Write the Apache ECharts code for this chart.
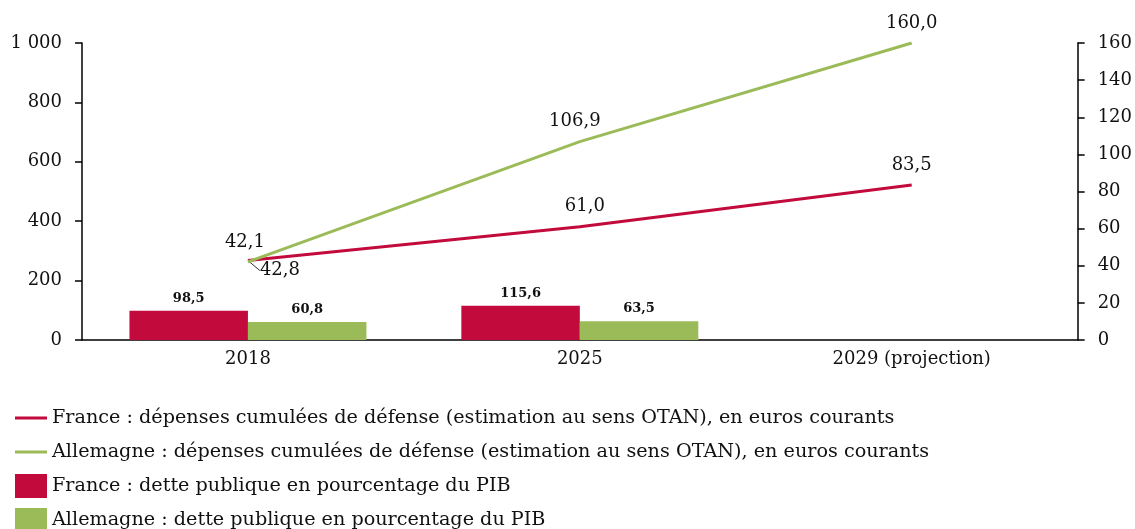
<!DOCTYPE html>
<html>
<head>
<meta charset="utf-8">
<script src="https://cdn.jsdelivr.net/npm/echarts@6/dist/echarts.min.js"></script>
<style>
  html, body { margin: 0; padding: 0; background: #fff; }
  #chart { width: 1135px; height: 529px; }
</style>
</head>
<body>
<div id="chart"></div>
<script>
// Years shown on the category axis
const categories = ['2018', '2025', '2029 (projection)'];

// Public debt, % of GDP (left axis)
const debtFrance = [98.5, 115.6, null];
const debtGermany = [60.8, 63.5, null];

// Cumulative defence spending, NATO basis (right axis)
const defenceFrance = [42.8, 61.0, 83.5];
const defenceGermany = [42.1, 106.9, 160.0];

// Tick settings
const leftTicks = { min: 0, max: 1000, interval: 200 };
const rightTicks = { min: 0, max: 160, interval: 20 };

const names = {
  defFr: 'France : dépenses cumulées de défense (estimation au sens OTAN), en euros courants',
  defDe: 'Allemagne : dépenses cumulées de défense (estimation au sens OTAN), en euros courants',
  debtFr: 'France : dette publique en pourcentage du PIB',
  debtDe: 'Allemagne : dette publique en pourcentage du PIB'
};

const RED = '#C20B3C';
const GREEN = '#9BBB59';
const FONT = 'DejaVu Serif';

const fmt = v => v.toFixed(1).replace('.', ',');
const thousands = v => String(v).replace(/\B(?=(\d{3})+(?!\d))/g, ' ');

// thin horizontal stroke used as the legend mark of the line series
const LINE_ICON = 'path://M0,0H32V3H0Z';

const chart = echarts.init(document.getElementById('chart'));

const barLabel = {
  show: true, position: 'top', distance: 6,
  fontFamily: FONT, fontSize: 13, fontWeight: 'bold', color: '#111',
  formatter: p => fmt(p.value)
};

const lineLabel = {
  show: true, position: 'top', distance: 11,
  fontFamily: FONT, fontSize: 18, color: '#111',
  formatter: p => fmt(p.value)
};

// the first French point has its label pushed below, with a leader line
const franceLineData = defenceFrance.map((v, i) =>
  i === 0 ? { value: v, labelLine: { show: true, lineStyle: { color: '#333', width: 1 } } } : v
);

chart.setOption({
  animation: false,
  textStyle: { fontFamily: FONT },
  grid: { left: 82, right: 57, top: 43, bottom: 189, containLabel: false },
  legend: {
    orient: 'vertical', left: 15, top: 406, height: 200, padding: 0,
    itemWidth: 32, itemHeight: 24, itemGap: 10,
    symbolKeepAspect: true,
    textStyle: { fontFamily: FONT, fontSize: 19.2, lineHeight: 24, color: '#111' },
    data: [
      { name: names.defFr, icon: LINE_ICON },
      { name: names.defDe, icon: LINE_ICON },
      { name: names.debtFr, icon: 'rect' },
      { name: names.debtDe, icon: 'rect' }
    ]
  },
  xAxis: {
    type: 'category', data: categories,
    axisLine: { lineStyle: { color: '#000', width: 1.5 } },
    axisTick: { show: false },
    axisLabel: { color: '#111', fontSize: 18, fontFamily: FONT, margin: 10 }
  },
  yAxis: [
    {
      type: 'value', ...leftTicks,
      splitLine: { show: false },
      axisLine: { show: true, lineStyle: { color: '#000', width: 1.5 } },
      axisTick: { show: true, length: 7, lineStyle: { color: '#000', width: 1.5 } },
      axisLabel: { color: '#111', fontSize: 18, fontFamily: FONT, margin: 20, formatter: thousands }
    },
    {
      type: 'value', position: 'right', ...rightTicks,
      splitLine: { show: false },
      axisLine: { show: true, lineStyle: { color: '#000', width: 1.5 } },
      axisTick: { show: true, length: 7, lineStyle: { color: '#000', width: 1.5 } },
      axisLabel: { color: '#111', fontSize: 18, fontFamily: FONT, margin: 20 }
    }
  ],
  series: [
    {
      name: names.debtFr, type: 'bar', yAxisIndex: 0,
      data: debtFrance, barGap: '0%', barCategoryGap: '28.6%',
      itemStyle: { color: RED }, label: barLabel
    },
    {
      name: names.debtDe, type: 'bar', yAxisIndex: 0,
      data: debtGermany, barGap: '0%', barCategoryGap: '28.6%',
      itemStyle: { color: GREEN }, label: barLabel
    },
    {
      name: names.defFr, type: 'line', yAxisIndex: 1,
      data: franceLineData, symbol: 'circle', symbolSize: 0, showSymbol: true,
      lineStyle: { color: RED, width: 3 }, itemStyle: { color: RED },
      label: lineLabel,
      labelLayout: p => p.dataIndex === 0 ? { dx: 32, dy: 30 } : (p.dataIndex === 1 ? { dx: 5 } : {}),
      labelLine: { show: false },
      z: 4
    },
    {
      name: names.defDe, type: 'line', yAxisIndex: 1,
      data: defenceGermany, symbol: 'circle', symbolSize: 0, showSymbol: true,
      lineStyle: { color: GREEN, width: 3 }, itemStyle: { color: GREEN },
      label: lineLabel,
      labelLayout: p => p.dataIndex === 0 ? { dx: -3 } : (p.dataIndex === 1 ? { dx: -5 } : {}),
      z: 5
    }
  ]
});
</script>
</body>
</html>
